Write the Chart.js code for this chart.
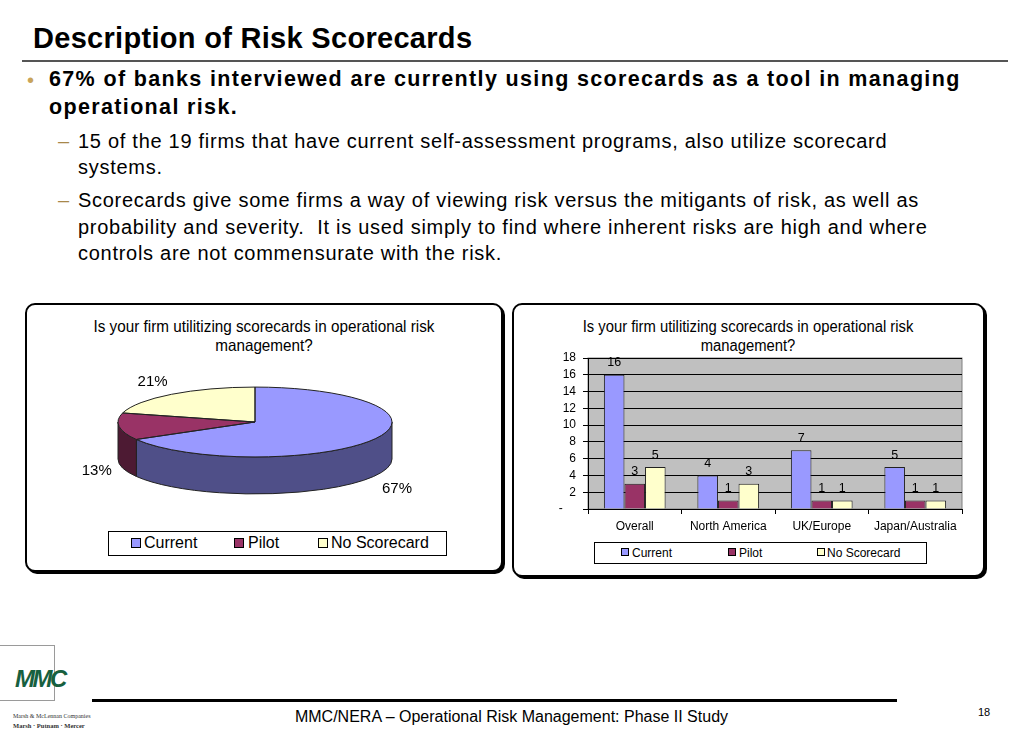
<!DOCTYPE html>
<html lang="en">
<head>
<meta charset="UTF-8">
<title>Description of Risk Scorecards</title>
<script src="https://cdn.jsdelivr.net/npm/chart.js"></script>
<style>
  body { margin: 0; width: 1023px; height: 731px; background: #fff; position: relative; overflow: hidden;
         font-family: "Liberation Sans", Arial, sans-serif; color: #000; }
  .abs { position: absolute; white-space: nowrap; line-height: 1; }
  .title { left: 33px; top: 24px; font-size: 29px; font-weight: bold; letter-spacing: 0.3px; }
  .rule { left: 22px; top: 60px; width: 986px; height: 2px; background: #555; }
  .b1 { left: 49px; font-size: 21.5px; font-weight: bold; letter-spacing: 1.35px; }
  .s1 { left: 78px; font-size: 20px; letter-spacing: 0.72px; }
  .dot { color: #c9a45a; font-size: 20px; }
  .dash { color: #a8884a; font-size: 20px; }
  .panel { position: absolute; border: 2px solid #000; border-radius: 10px; box-shadow: 2px 2px 0 #000; background: #fff; }
  .ctitle { position: absolute; white-space: nowrap; line-height: 19px; font-size: 16.5px; transform: translateX(-50%) scaleX(0.925); text-align: center; }
  .legend { position: absolute; border: 1px solid #000; background: #fff; }
  .sw { position: absolute; border: 1px solid #000; box-sizing: border-box; }
  .lt { position: absolute; white-space: nowrap; line-height: 1; }
  .chartbox { position: absolute; }
</style>
</head>
<body>
<div class="abs title">Description of Risk Scorecards</div>
<div class="abs rule"></div>

<div class="abs dot" style="left:27px; top:70px;">•</div>
<div class="abs b1" style="top:68.5px;">67% of banks interviewed are currently using scorecards as a tool in managing</div>
<div class="abs b1" style="top:96.5px;">operational risk.</div>

<div class="abs dash" style="left:58px; top:130.5px;">–</div>
<div class="abs s1" style="top:130.5px;">15 of the 19 firms that have current self-assessment programs, also utilize scorecard</div>
<div class="abs s1" style="top:157px;">systems.</div>
<div class="abs dash" style="left:58px; top:189.5px;">–</div>
<div class="abs s1" style="top:189.5px;">Scorecards give some firms a way of viewing risk versus the mitigants of risk, as well as</div>
<div class="abs s1" style="top:216.5px;">probability and severity.&nbsp; It is used simply to find where inherent risks are high and where</div>
<div class="abs s1" style="top:243px;">controls are not commensurate with the risk.</div>

<!-- pie panel -->
<div class="panel" style="left:25px; top:303px; width:474px; height:265px;"></div>
<div class="ctitle" style="left:264px; top:317px;">Is your firm utilitizing scorecards in operational risk<br>management?</div>
<div class="chartbox" style="left:30px; top:306px; width:470px; height:262px;"><canvas id="pieChart"></canvas></div>
<div class="legend" id="pieLegend" style="left:108px; top:531px; width:337px; height:23px;"></div>

<!-- bar panel -->
<div class="panel" style="left:512px; top:303px; width:469px; height:270px;"></div>
<div class="ctitle" style="left:748px; top:317px; font-size:16px;">Is your firm utilitizing scorecards in operational risk<br>management?</div>
<div class="chartbox" style="left:515px; top:306px; width:467px; height:236px;"><canvas id="barChart"></canvas></div>
<div class="legend" id="barLegend" style="left:594px; top:542px; width:331px; height:20px;"></div>

<!-- footer -->
<div class="abs" style="left:-1px; top:645px; width:54px; height:54px; border:1px solid #9a9a9a;"></div>
<div class="abs" style="left:15px; top:667px; font-size:24px; font-weight:bold; font-style:italic; color:#17603f; letter-spacing:-2.5px;">MMC</div>
<div class="abs" style="left:13px; top:713px; font-size:6px; font-family:'Liberation Serif', serif; color:#333;">Marsh &amp; McLennan Companies</div>
<div class="abs" style="left:13px; top:723px; font-size:6.5px; font-weight:bold; font-family:'Liberation Serif', serif; color:#333;">Marsh · Putnam · Mercer</div>
<div class="abs" style="left:92px; top:699px; width:805px; height:3px; background:#000;"></div>
<div class="abs" style="left:0; width:1023px; text-align:center; top:709px; font-size:16px;">MMC/NERA – Operational Risk Management: Phase II Study</div>
<div class="abs" style="left:978px; top:707px; font-size:11px;">18</div>

<script>
  // data
  const regions = ['Overall', 'North America', 'UK/Europe', 'Japan/Australia'];
  const seriesNames = ['Current', 'Pilot', 'No Scorecard'];
  const current = [16, 4, 7, 5];
  const pilot = [3, 1, 1, 1];
  const noScorecard = [5, 3, 1, 1];
  // pie shows the overall split
  const pieValues = [current[0], pilot[0], noScorecard[0]];
  const yMax = 18;
  const yStep = 2;

  const fills = ['#9999ff', '#993366', '#ffffcc'];
  const sides = ['#4f4f88', '#4d1a33', '#8a8a66'];
  const FONT = '"Liberation Sans", Arial, sans-serif';
  Chart.defaults.font.family = FONT;
  Chart.defaults.color = '#000';

  // html legends
  function buildLegend(id, items, fs, sw) {
    const box = document.getElementById(id);
    items.forEach(it => {
      const s = document.createElement('div');
      s.className = 'sw';
      s.style.cssText = `left:${it.sx}px; top:${it.sy}px; width:${sw}px; height:${sw}px; background:${it.color};`;
      box.appendChild(s);
      const t = document.createElement('div');
      t.className = 'lt';
      t.style.cssText = `left:${it.tx}px; top:${it.ty}px; font-size:${fs}px;`;
      t.textContent = it.label;
      box.appendChild(t);
    });
  }
  buildLegend('pieLegend', [
    {label: seriesNames[0], color: fills[0], sx: 22, sy: 6, tx: 35, ty: 3},
    {label: seriesNames[1], color: fills[1], sx: 125, sy: 6, tx: 139, ty: 3},
    {label: seriesNames[2], color: fills[2], sx: 209, sy: 6, tx: 222, ty: 3}
  ], 16, 10);
  buildLegend('barLegend', [
    {label: seriesNames[0], color: fills[0], sx: 26, sy: 5, tx: 37, ty: 4},
    {label: seriesNames[1], color: fills[1], sx: 133, sy: 5, tx: 144, ty: 4},
    {label: seriesNames[2], color: fills[2], sx: 222, sy: 5, tx: 232, ty: 4}
  ], 12, 8);

  // 3D pie: tilt the arcs into an ellipse and add a front wall
  const TILT = 0.255;
  const DEPTH = 37;
  const pie3d = {
    id: 'pie3d',
    beforeDatasetsDraw(chart) {
      const ctx = chart.ctx;
      const arcs = chart.getDatasetMeta(0).data;
      const cx = arcs[0].x, cy = arcs[0].y, r = arcs[0].outerRadius, ry = r * TILT;
      ctx.save();
      ctx.lineWidth = 1;
      ctx.strokeStyle = '#222';
      arcs.forEach((arc, i) => {
        const a1 = Math.max(arc.startAngle, 0), a2 = Math.min(arc.endAngle, Math.PI);
        if (a2 <= a1) return;
        ctx.beginPath();
        ctx.ellipse(cx, cy, r, ry, 0, a1, a2);
        ctx.ellipse(cx, cy + DEPTH, r, ry, 0, a2, a1, true);
        ctx.closePath();
        ctx.fillStyle = sides[i];
        ctx.fill();
        ctx.stroke();
      });
      ctx.save();
      ctx.translate(cx, cy);
      ctx.scale(1, TILT);
      ctx.translate(-cx, -cy);
      arcs.forEach(arc => arc.draw(ctx));
      ctx.restore();
      arcs.forEach(arc => {
        ctx.beginPath();
        ctx.moveTo(cx, cy);
        ctx.ellipse(cx, cy, r, ry, 0, arc.startAngle, arc.endAngle);
        ctx.closePath();
        ctx.stroke();
      });
      ctx.restore();
      return false;
    },
    afterDraw(chart) {
      // percentage labels (afterDatasetsDraw is skipped when the draw above is cancelled)
      const ctx = chart.ctx;
      const arcs = chart.getDatasetMeta(0).data;
      const vals = chart.data.datasets[0].data;
      const total = vals.reduce((a, b) => a + b, 0);
      ctx.save();
      ctx.font = '15px ' + FONT;
      ctx.fillStyle = '#000';
      ctx.textAlign = 'center';
      ctx.textBaseline = 'middle';
      arcs.forEach((arc, i) => {
        const mid = (arc.startAngle + arc.endAngle) / 2;
        const s = Math.sin(mid);
        const x = arc.x + arc.outerRadius * 1.18 * Math.cos(mid) + (s > 0 ? 2 : -4);
        const y = arc.y + arc.outerRadius * TILT * 1.45 * s + (s > 0 ? DEPTH + 5 : 0);
        ctx.fillText(Math.round(vals[i] / total * 100) + '%', x, y);
      });
      ctx.restore();
    }
  };

  new Chart(document.getElementById('pieChart'), {
    type: 'pie',
    data: {
      labels: seriesNames,
      datasets: [{ data: pieValues, backgroundColor: fills, borderWidth: 0 }]
    },
    options: {
      responsive: true,
      maintainAspectRatio: false,
      animation: false,
      radius: 137,
      layout: { padding: { left: 0, right: 20, top: 0, bottom: 30 } },
      plugins: { legend: { display: false }, tooltip: { enabled: false } }
    },
    plugins: [pie3d]
  });

  // gray plot area and value labels for the bars
  const plotBg = {
    id: 'plotBg',
    beforeDraw(chart) {
      const {ctx, chartArea: a} = chart;
      ctx.save();
      ctx.fillStyle = '#c0c0c0';
      ctx.fillRect(a.left, a.top, a.width, a.height);
      ctx.strokeStyle = '#808080';
      ctx.lineWidth = 1;
      ctx.strokeRect(a.left, a.top, a.width, a.height);
      ctx.restore();
    },
    afterDatasetsDraw(chart) {
      const ctx = chart.ctx;
      ctx.save();
      ctx.font = '12.5px ' + FONT;
      ctx.fillStyle = '#000';
      ctx.textAlign = 'center';
      ctx.textBaseline = 'middle';
      chart.data.datasets.forEach((ds, d) => {
        chart.getDatasetMeta(d).data.forEach((bar, i) => {
          ctx.fillText(ds.data[i], bar.x, bar.y - 12);
        });
      });
      ctx.restore();
    }
  };

  new Chart(document.getElementById('barChart'), {
    type: 'bar',
    data: {
      labels: regions,
      datasets: [
        { label: seriesNames[0], data: current, backgroundColor: fills[0] },
        { label: seriesNames[1], data: pilot, backgroundColor: fills[1] },
        { label: seriesNames[2], data: noScorecard, backgroundColor: fills[2] }
      ]
    },
    options: {
      responsive: true,
      maintainAspectRatio: false,
      animation: false,
      datasets: { bar: { borderColor: '#222', borderWidth: 1, categoryPercentage: 0.66, barPercentage: 1 } },
      layout: { padding: { left: 33, top: 52, right: 20, bottom: 5 } },
      scales: {
        x: {
          grid: { drawOnChartArea: false, drawTicks: true, tickLength: 5, color: '#000', offset: true },
          border: { color: '#000' },
          ticks: { font: { size: 12 }, padding: 5, maxRotation: 0, color: '#000' },
          afterFit: s => { s.height = 28; }
        },
        y: {
          min: 0, max: yMax,
          grid: { color: '#000', tickLength: 5 },
          border: { color: '#000' },
          ticks: { stepSize: yStep, autoSkip: false, maxTicksLimit: 20, font: { size: 12 }, padding: 7, color: '#000',
                   callback: v => v === 0 ? '-    ' : v },
          afterFit: s => { s.width = 40; }
        }
      },
      plugins: { legend: { display: false }, tooltip: { enabled: false } }
    },
    plugins: [plotBg]
  });
</script>
</body>
</html>
